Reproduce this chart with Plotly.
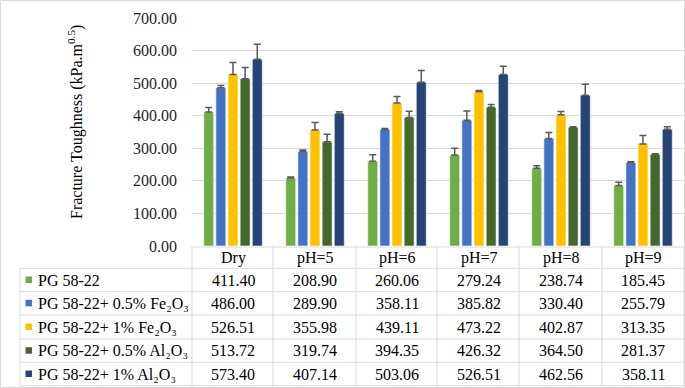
import plotly.graph_objects as go

categories = ["Dry", "pH=5", "pH=6", "pH=7", "pH=8", "pH=9"]
series_names = [
    "PG 58-22",
    "PG 58-22+ 0.5% Fe₂O₃",
    "PG 58-22+ 1% Fe₂O₃",
    "PG 58-22+ 0.5% Al₂O₃",
    "PG 58-22+ 1% Al₂O₃",
]
pg = [411.40, 208.90, 260.06, 279.24, 238.74, 185.45]
fe05 = [486.00, 289.90, 358.11, 385.82, 330.40, 255.79]
fe1 = [526.51, 355.98, 439.11, 473.22, 402.87, 313.35]
al05 = [513.72, 319.74, 394.35, 426.32, 364.50, 281.37]
al1 = [573.40, 407.14, 503.06, 526.51, 462.56, 358.11]

err_pg = [14, 3, 20, 21, 8, 10]
err_fe05 = [7, 5, 3, 29, 18, 3]
err_fe1 = [37, 23, 20, 4, 10, 26]
err_al05 = [34, 23, 19, 8, 2, 2]
err_al1 = [46, 5, 36, 25, 34, 8]

y_ticks = [0, 100, 200, 300, 400, 500, 600, 700]
colors = ["#70AD47", "#4472C4", "#FFC000", "#43682B", "#264478"]

values = [pg, fe05, fe1, al05, al1]
errors = [err_pg, err_fe05, err_fe1, err_al05, err_al1]

W, H = 685, 388
L, R, T, B = 192, 1, 18, 142
PW, PH = W - L - R, H - T - B


def px(x):
    return (x - L) / PW


def py(y):
    return (H - B - y) / PH


FONT = "Liberation Serif"
GRID = "#D9D9D9"

fig = go.Figure()
for name, vals, errs, col in zip(series_names, values, errors, colors):
    fig.add_trace(go.Bar(
        x=categories, y=vals, name=name,
        marker=dict(color=col, line=dict(color="white", width=0.6)),
        error_y=dict(type="data", symmetric=False, array=errs,
                     arrayminus=[0] * len(errs), color="#595959",
                     thickness=1.5, width=3.5),
    ))

shapes = []
annotations = []

row_lines = [247, 268.3, 291.7, 315, 339, 362.3, 385.7]
for i, yl in enumerate(row_lines):
    x0 = 192 if i == 0 else 20
    shapes.append(dict(type="line", xref="paper", yref="paper",
                       x0=px(x0), x1=px(684), y0=py(yl), y1=py(yl),
                       line=dict(color=GRID, width=1)))
col_lines = [192, 273, 356, 437, 519, 602, 684]
for xl in col_lines:
    shapes.append(dict(type="line", xref="paper", yref="paper",
                       x0=px(xl), x1=px(xl), y0=py(246), y1=py(385.7),
                       line=dict(color=GRID, width=1)))
shapes.append(dict(type="line", xref="paper", yref="paper",
                   x0=px(20), x1=px(20), y0=py(268.3), y1=py(385.7),
                   line=dict(color=GRID, width=1)))
shapes.append(dict(type="rect", xref="paper", yref="paper",
                   x0=px(0.5), x1=px(W - 0.5), y0=py(0.5), y1=py(H - 0.5),
                   line=dict(color=GRID, width=1)))

for c in categories:
    annotations.append(dict(x=c, xref="x", y=py(258), yref="paper",
                            text=c, showarrow=False,
                            font=dict(family=FONT, size=16, color="#000000"),
                            xanchor="center", yanchor="middle"))

row_centers = [280, 303.3, 327, 350.7, 374]
for name, vals, col, yc in zip(series_names, values, colors, row_centers):
    shapes.append(dict(type="rect", xref="paper", yref="paper",
                       x0=px(25.5), x1=px(32), y0=py(yc - 3.5), y1=py(yc + 3),
                       fillcolor=col, line=dict(width=0)))
    annotations.append(dict(x=px(36), xref="paper", y=py(yc), yref="paper",
                            text=name, showarrow=False,
                            font=dict(family=FONT, size=16, color="#000000"),
                            xanchor="left", yanchor="middle"))
    for c, v in zip(categories, vals):
        annotations.append(dict(x=c, xref="x", y=py(yc), yref="paper",
                                text=f"{v:.2f}", showarrow=False,
                                font=dict(family=FONT, size=16, color="#000000"),
                                xanchor="center", yanchor="middle"))

annotations.append(dict(x=px(75), xref="paper", y=py(122), yref="paper",
                        text="Fracture Toughness (kPa.m<sup>0.5</sup>)",
                        textangle=-90, showarrow=False,
                        font=dict(family=FONT, size=16, color="#000000"),
                        xanchor="center", yanchor="middle"))

fig.update_layout(
    width=W, height=H,
    margin=dict(l=L, r=R, t=T, b=B, pad=0),
    paper_bgcolor="white", plot_bgcolor="white",
    font=dict(family=FONT),
    barmode="group", bargap=0.26, bargroupgap=0.175,
    showlegend=False,
    shapes=shapes, annotations=annotations,
    xaxis=dict(showticklabels=False, showgrid=False, zeroline=False,
               showline=False, ticks=""),
    yaxis=dict(range=[0, 700], tickvals=y_ticks,
               ticktext=[f"{t:.2f}" for t in y_ticks],
               showgrid=True, gridcolor=GRID, gridwidth=1,
               zeroline=False, showline=False, ticks="",
               ticklabelstandoff=14,
               tickfont=dict(family=FONT, size=16, color="#262626")),
)

fig.write_html("out.html", config={"displayModeBar": False},
               post_script="document.body.style.margin='0';document.body.style.overflow='hidden';")
